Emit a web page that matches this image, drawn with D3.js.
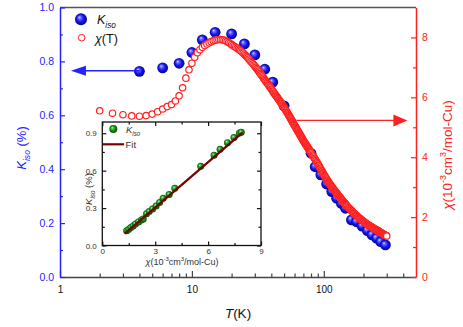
<!DOCTYPE html>
<html lang="en">
<head>
<meta charset="UTF-8">
<title>Kiso and chi vs T</title>
<script src="https://cdn.jsdelivr.net/npm/d3@7"></script>
<style>
  body { margin: 0; background: #fff; }
  svg { display: block; font-family: "Liberation Sans", Arial, sans-serif; }
  text { white-space: pre; }
</style>
</head>
<body>
<div id="chart"></div>
<script>
// K_iso (%) against T (K), blue balls
const kTemp = [4, 6, 8, 10, 12, 15, 20, 25, 30, 35.7, 41, 50, 80, 86, 95, 105, 115, 125, 136, 146, 162, 177, 195, 214, 232, 251, 270, 293];
const kIso = [0.763, 0.776, 0.793, 0.833, 0.880, 0.908, 0.902, 0.865, 0.824, 0.771, 0.723, 0.635, 0.459, 0.409, 0.379, 0.345, 0.317, 0.292, 0.273, 0.255, 0.212, 0.205, 0.189, 0.172, 0.156, 0.144, 0.131, 0.119];

// chi(T) in 1e-3 cm3/mol-Cu, red open circles (dense measurement)
const chiTemp = [
  2, 2.5, 3, 3.5, 4, 4.5, 5, 5.5, 6, 6.5, 7, 7.5, 8, 8.5, 9, 9.5, 10, 10.5, 11, 11.5,
  12, 12.5, 13, 13.5, 14, 14.5, 15, 15.5, 16, 16.5, 17, 17.5, 18, 18.5, 19, 19.5, 20,
  20.5, 21, 21.5, 22, 22.5, 23, 23.5, 24, 24.5, 25, 25.5, 26, 26.5, 27, 27.5, 28, 28.5, 29, 29.5, 30,
  30.5, 31, 31.5, 32, 32.5, 33, 33.5, 34, 34.5, 35, 35.5, 36, 36.5, 37, 37.5, 38, 38.5, 39, 39.5, 40,
  40.5, 41, 41.5, 42, 42.5, 43, 43.5, 44, 44.5, 45, 45.5, 46, 46.5, 47, 47.5, 48, 48.5, 49, 49.5, 50,
  50.5, 51, 51.5, 52, 52.5, 53, 53.5, 54, 54.5, 55, 55.5, 56, 56.5, 57, 57.5, 58, 58.5, 59, 59.5, 60,
  60.5, 61, 61.5, 62, 62.5, 63, 63.5, 64, 64.5, 65, 65.5, 66, 66.5, 67, 67.5, 68, 68.5, 69, 69.5, 70,
  70.5, 71, 71.5, 72, 72.5, 73, 73.5, 74, 74.5, 75, 75.5, 76, 76.5, 77, 77.5, 78, 78.5, 79, 79.5, 80,
  81, 82, 83, 84, 85, 86, 87, 88, 89, 90, 91, 92, 93, 94, 95, 96, 97, 98, 99, 100,
  101, 102, 103, 104, 105, 106, 107, 108, 109, 110, 111, 112, 113, 114, 115, 116, 117, 118, 119, 120,
  121, 122, 123, 124, 125, 126, 127, 128, 129, 130, 131, 132, 133, 134, 135, 136, 137, 138, 139, 140,
  141, 142, 143, 144, 145, 146, 147, 148, 149, 150,
  152, 154, 156, 158, 160, 162, 164, 166, 168, 170, 172, 174, 176, 178, 180, 182, 184, 186, 188, 190,
  192, 194, 196, 198, 200, 202, 204, 206, 208, 210, 212, 214, 216, 218, 220, 222, 224, 226, 228, 230,
  232, 234, 236, 238, 240, 242, 244, 246, 248, 250, 252, 254, 256, 258, 260, 262, 264, 266, 268, 270,
  272, 274, 276, 278, 280, 282, 284, 286, 288, 290, 292, 294, 296, 298, 300
];
const chiVal = [
  5.55, 5.47, 5.42, 5.38, 5.37, 5.39, 5.44, 5.52, 5.61, 5.69, 5.76, 5.88, 6.05, 6.32, 6.64, 6.92, 7.14, 7.34, 7.49, 7.59,
  7.67, 7.73, 7.78, 7.82, 7.86, 7.89, 7.91, 7.92, 7.93, 7.93, 7.92, 7.91, 7.89, 7.86, 7.83, 7.80, 7.76,
  7.73, 7.70, 7.67, 7.64, 7.61, 7.58, 7.55, 7.51, 7.48, 7.44, 7.40, 7.36, 7.32, 7.28, 7.24, 7.20, 7.16, 7.12, 7.08, 7.04,
  7.00, 6.96, 6.92, 6.88, 6.84, 6.80, 6.76, 6.72, 6.68, 6.64, 6.60, 6.56, 6.53, 6.49, 6.46, 6.42, 6.39, 6.35, 6.32, 6.28,
  6.25, 6.21, 6.18, 6.14, 6.11, 6.08, 6.05, 6.02, 5.99, 5.96, 5.93, 5.90, 5.87, 5.84, 5.81, 5.78, 5.75, 5.72, 5.69, 5.66,
  5.63, 5.60, 5.57, 5.54, 5.51, 5.48, 5.45, 5.42, 5.39, 5.36, 5.33, 5.30, 5.27, 5.24, 5.21, 5.18, 5.15, 5.12, 5.09, 5.06,
  5.04, 5.01, 4.99, 4.96, 4.93, 4.90, 4.88, 4.85, 4.83, 4.80, 4.78, 4.75, 4.73, 4.70, 4.68, 4.65, 4.63, 4.60, 4.58, 4.55,
  4.53, 4.51, 4.49, 4.47, 4.45, 4.43, 4.41, 4.39, 4.37, 4.35, 4.33, 4.31, 4.29, 4.27, 4.25, 4.23, 4.21, 4.19, 4.17, 4.15,
  4.11, 4.07, 4.04, 4.00, 3.96, 3.93, 3.89, 3.85, 3.82, 3.78, 3.74, 3.71, 3.67, 3.63, 3.60, 3.56, 3.53, 3.49, 3.46, 3.42,
  3.39, 3.36, 3.33, 3.30, 3.27, 3.24, 3.21, 3.18, 3.16, 3.13, 3.11, 3.08, 3.06, 3.03, 3.01, 2.99, 2.96, 2.94, 2.92, 2.90,
  2.88, 2.86, 2.84, 2.82, 2.80, 2.78, 2.76, 2.74, 2.72, 2.70, 2.68, 2.66, 2.65, 2.63, 2.61, 2.59, 2.58, 2.56, 2.54, 2.52,
  2.51, 2.49, 2.48, 2.46, 2.45, 2.43, 2.42, 2.40, 2.39, 2.37,
  2.34, 2.32, 2.29, 2.27, 2.24, 2.22, 2.19, 2.17, 2.14, 2.12, 2.10, 2.08, 2.06, 2.04, 2.02, 2.00, 1.98, 1.97, 1.95, 1.93,
  1.91, 1.90, 1.88, 1.87, 1.85, 1.84, 1.82, 1.81, 1.79, 1.78, 1.77, 1.75, 1.74, 1.73, 1.72, 1.71, 1.70, 1.69, 1.68, 1.67,
  1.66, 1.65, 1.64, 1.63, 1.62, 1.61, 1.60, 1.59, 1.58, 1.57, 1.56, 1.56, 1.55, 1.54, 1.53, 1.52, 1.51, 1.50, 1.49, 1.48,
  1.47, 1.47, 1.46, 1.45, 1.44, 1.43, 1.42, 1.42, 1.41, 1.40, 1.39, 1.39, 1.38, 1.38, 1.37
];

// inset: K_iso against chi, and the linear fit
const inChi = [1.38, 1.50, 1.62, 1.75, 1.88, 2.05, 2.22, 2.32, 2.51, 2.66, 2.85, 3.05, 3.25, 3.45, 3.79, 4.11, 5.58, 6.34, 6.68, 7.10, 7.47, 7.78, 7.88];
const inK = [0.119, 0.131, 0.144, 0.156, 0.172, 0.189, 0.205, 0.212, 0.255, 0.273, 0.292, 0.317, 0.345, 0.379, 0.409, 0.459, 0.635, 0.723, 0.771, 0.824, 0.865, 0.902, 0.908];
const fitChi = [1.28, 7.95];
const fitK = [0.095, 0.905];

// arrows pointing to the axis each series belongs to
const blueArrowT = [4, 1.21], blueArrowK = 0.765;
const redArrowT = [62, 430], redArrowChi = 5.23;

// ticks
const xMajor = [1, 10, 100];
const xMinor = [2, 3, 4, 5, 6, 7, 8, 9, 20, 30, 40, 50, 60, 70, 80, 90, 200, 300, 400];
const kTicks = [0, 0.2, 0.4, 0.6, 0.8, 1.0];
const kMinor = [0.1, 0.3, 0.5, 0.7, 0.9];
const chiTicks = [0, 2, 4, 6, 8];
const chiMinor = [1, 3, 5, 7];
const inXTicks = [0, 3, 6, 9];
const inXMinor = [1.5, 4.5, 7.5];
const inYTicks = [0, 0.3, 0.6, 0.9];
const inYMinor = [0.15, 0.45, 0.75];

const W = 463, H = 327;
const BLUE = "#2323ff", RED = "#ff2020", DARK = "#333";

const svg = d3.select("#chart").append("svg")
  .attr("width", W).attr("height", H);

const defs = svg.append("defs");
function ballGradient(id, stops) {
  const g = defs.append("radialGradient").attr("id", id)
    .attr("cx", "50%").attr("cy", "50%").attr("r", "55%")
    .attr("fx", "35%").attr("fy", "32%");
  stops.forEach(s => g.append("stop").attr("offset", s[0]).attr("stop-color", s[1]));
}
ballGradient("gBlue", [["0%", "#d8d8ff"], ["22%", "#6a6aff"], ["55%", "#1414f2"], ["100%", "#00007a"]]);
ballGradient("gGreen", [["0%", "#d8ffd8"], ["22%", "#5cc05c"], ["55%", "#128c12"], ["100%", "#004a00"]]);

// scales of the main plot
const x = d3.scaleLog().domain([1, 500]).range([60, 416]);
const yK = d3.scaleLinear().domain([0, 1]).range([277, 7.5]);
const yC = d3.scaleLinear().domain([0, 9]).range([277, 7.5]);

function styleAxis(g, color, fs) {
  g.selectAll(".tick line").attr("stroke", color).attr("stroke-width", 1.2);
  g.select(".domain").attr("stroke", color).attr("stroke-width", 1.5);
  g.selectAll("text").attr("fill", color).attr("font-size", fs)
    .attr("font-family", "'Liberation Sans', Arial, sans-serif");
}

// top border
svg.append("line")
  .attr("x1", x.range()[0]).attr("x2", x.range()[1])
  .attr("y1", yK.range()[1]).attr("y2", yK.range()[1])
  .attr("stroke", "#555").attr("stroke-width", 1.5);

// bottom axis
const gxMinor = svg.append("g").attr("transform", `translate(0,${yK.range()[0]})`)
  .call(d3.axisBottom(x).tickValues(xMinor).tickFormat("").tickSize(-3.5).tickSizeOuter(0));
gxMinor.select(".domain").remove();
styleAxis(gxMinor, "#444", 10);
const gx = svg.append("g").attr("transform", `translate(0,${yK.range()[0]})`)
  .call(d3.axisBottom(x).tickValues(xMajor).tickFormat(d3.format("d"))
    .tickSize(-6).tickPadding(9).tickSizeOuter(0));
styleAxis(gx, "#444", 10);
gx.selectAll("text").attr("fill", "#111");

// left axis
const gkMinor = svg.append("g").attr("transform", `translate(${x.range()[0]},0)`)
  .call(d3.axisLeft(yK).tickValues(kMinor).tickFormat("").tickSize(-3).tickSizeOuter(0));
gkMinor.select(".domain").remove();
styleAxis(gkMinor, BLUE, 10);
const gk = svg.append("g").attr("transform", `translate(${x.range()[0]},0)`)
  .call(d3.axisLeft(yK).tickValues(kTicks).tickFormat(d3.format(".1f"))
    .tickSize(-5).tickPadding(6).tickSizeOuter(0));
styleAxis(gk, BLUE, 10.5);

// right axis
const gcMinor = svg.append("g").attr("transform", `translate(${x.range()[1]},0)`)
  .call(d3.axisRight(yC).tickValues(chiMinor).tickFormat("").tickSize(-3).tickSizeOuter(0));
gcMinor.select(".domain").remove();
styleAxis(gcMinor, RED, 10);
const gc = svg.append("g").attr("transform", `translate(${x.range()[1]},0)`)
  .call(d3.axisRight(yC).tickValues(chiTicks).tickFormat(d3.format("d"))
    .tickSize(-5).tickPadding(6).tickSizeOuter(0));
styleAxis(gc, RED, 10.5);

// text with sub / superscripts
function rich(t, parts, size) {
  let shift = 0;
  parts.forEach(p => {
    const target = p.sub ? size * 0.32 : p.sup ? -size * 0.42 : 0;
    t.append("tspan")
      .attr("dy", target - shift)
      .attr("font-size", p.sub || p.sup ? size * 0.66 : size)
      .attr("font-style", p.it ? "italic" : null)
      .text(p.t);
    shift = target;
  });
  return t;
}

// axis titles
rich(svg.append("text").attr("transform", "translate(26,148) rotate(-90)")
  .attr("text-anchor", "middle").attr("fill", BLUE),
  [{ t: "K", it: true }, { t: "iso", sub: true, it: true }, { t: " (%)" }], 13);

rich(svg.append("text").attr("transform", "translate(452,155) rotate(-90)")
  .attr("text-anchor", "middle").attr("fill", RED),
  [{ t: "χ", it: true }, { t: "(10" }, { t: "-3", sup: true }, { t: "cm" }, { t: "3", sup: true }, { t: "/mol-Cu)" }], 13.5);

rich(svg.append("text").attr("x", 238).attr("y", 318)
  .attr("text-anchor", "middle").attr("fill", "#111"),
  [{ t: "T", it: true }, { t: "(K)" }], 13.5);

// K_iso balls
svg.append("g").selectAll("circle")
  .data(kTemp.map((t, i) => [t, kIso[i]]))
  .join("circle")
  .attr("cx", d => x(d[0])).attr("cy", d => yK(d[1]))
  .attr("r", 5.4).attr("fill", "url(#gBlue)");

// chi circles, drawn in order of T so the dense part reads as a solid band
svg.append("g").selectAll("circle")
  .data(chiTemp.map((t, i) => [t, chiVal[i]]))
  .join("circle")
  .attr("cx", d => x(d[0])).attr("cy", d => yC(d[1]))
  .attr("r", 3.2).attr("fill", "#fff").attr("stroke", RED).attr("stroke-width", 1.2);

// arrows
function arrow(x1, x2, y, color, len, half, sw) {
  const dir = Math.sign(x2 - x1);
  svg.append("line").attr("x1", x1).attr("x2", x2 - dir * len * 0.8)
    .attr("y1", y).attr("y2", y).attr("stroke", color).attr("stroke-width", sw);
  svg.append("path")
    .attr("d", `M${x2},${y}L${x2 - dir * len},${y - half}L${x2 - dir * len},${y + half}Z`)
    .attr("fill", color);
}
arrow(x(blueArrowT[0]), x(blueArrowT[1]), yK(blueArrowK), BLUE, 15, 5, 1.5);
arrow(x(redArrowT[0]), x(redArrowT[1]), yC(redArrowChi), RED, 14, 6, 1.3);

// legend of the main plot
svg.append("circle").attr("cx", 81).attr("cy", 19.3).attr("r", 6).attr("fill", "url(#gBlue)");
rich(svg.append("text").attr("x", 97).attr("y", 23.5).attr("fill", "#111"),
  [{ t: "K", it: true }, { t: "iso", sub: true, it: true }], 12.5);
svg.append("circle").attr("cx", 81.7).attr("cy", 37.7).attr("r", 3.3)
  .attr("fill", "#fff").attr("stroke", RED).attr("stroke-width", 1);
rich(svg.append("text").attr("x", 95).attr("y", 42.5).attr("fill", "#111"),
  [{ t: "χ", it: true }, { t: "(T)" }], 12.5);

// ---- inset ----
const ix = d3.scaleLinear().domain([0, 9]).range([102.3, 261]);
const iy = d3.scaleLinear().domain([0, 0.99]).range([245.5, 122]);
const inset = svg.append("g");
inset.append("rect")
  .attr("x", ix.range()[0]).attr("y", iy.range()[1])
  .attr("width", ix.range()[1] - ix.range()[0]).attr("height", iy.range()[0] - iy.range()[1])
  .attr("fill", "#fff").attr("stroke", "#111").attr("stroke-width", 1.3);

function insetAxis(axis, transform, vals, minor, fmt, padding) {
  const gm = inset.append("g").attr("transform", transform)
    .call(axis.tickValues(minor).tickFormat("").tickSize(-2.5).tickSizeOuter(0));
  gm.select(".domain").remove();
  styleAxis(gm, "#111", 8);
  const g = inset.append("g").attr("transform", transform)
    .call(axis.tickValues(vals).tickFormat(fmt).tickSize(-4).tickPadding(padding).tickSizeOuter(0));
  g.select(".domain").remove();
  styleAxis(g, "#111", 8);
  g.selectAll("text").attr("fill", DARK);
  return g;
}
insetAxis(d3.axisBottom(ix), `translate(0,${iy.range()[0]})`, inXTicks, inXMinor, d3.format("d"), 2.5);
insetAxis(d3.axisLeft(iy), `translate(${ix.range()[0]},0)`, inYTicks, inYMinor, d3.format(".1f"), 5.5);
insetAxis(d3.axisTop(ix), `translate(0,${iy.range()[1]})`, inXTicks, inXMinor, "", 0)
  .selectAll("text").remove();
insetAxis(d3.axisRight(iy), `translate(${ix.range()[1]},0)`, inYTicks, inYMinor, "", 0)
  .selectAll("text").remove();

rich(inset.append("text").attr("x", 182).attr("y", 264.5)
  .attr("text-anchor", "middle").attr("fill", DARK),
  [{ t: "χ", it: true }, { t: "(10" }, { t: "-3", sup: true }, { t: "cm" }, { t: "3", sup: true }, { t: "/mol-Cu)" }], 9);
rich(inset.append("text").attr("transform", "translate(92,189) rotate(-90)")
  .attr("text-anchor", "middle").attr("fill", DARK),
  [{ t: "K", it: true }, { t: "iso", sub: true, it: true }, { t: " (%)" }], 9.5);

inset.append("g").selectAll("circle")
  .data(inChi.map((c, i) => [c, inK[i]]))
  .join("circle")
  .attr("cx", d => ix(d[0])).attr("cy", d => iy(d[1]))
  .attr("r", 3.5).attr("fill", "url(#gGreen)");

inset.append("path")
  .datum(fitChi.map((c, i) => [c, fitK[i]]))
  .attr("d", d3.line().x(d => ix(d[0])).y(d => iy(d[1])))
  .attr("stroke", "#7a0000").attr("stroke-width", 2.2).attr("fill", "none");

// inset legend
inset.append("circle").attr("cx", 113.3).attr("cy", 129).attr("r", 4).attr("fill", "url(#gGreen)");
rich(inset.append("text").attr("x", 126).attr("y", 133).attr("fill", DARK),
  [{ t: "K", it: true }, { t: "iso", sub: true, it: true }], 9.5);
inset.append("line").attr("x1", 103).attr("x2", 124).attr("y1", 144.3).attr("y2", 144.3)
  .attr("stroke", "#7a0000").attr("stroke-width", 2.2);
inset.append("text").attr("x", 125.5).attr("y", 147.8).attr("fill", DARK)
  .attr("font-size", 9.5).text("Fit");
</script>
</body>
</html>
